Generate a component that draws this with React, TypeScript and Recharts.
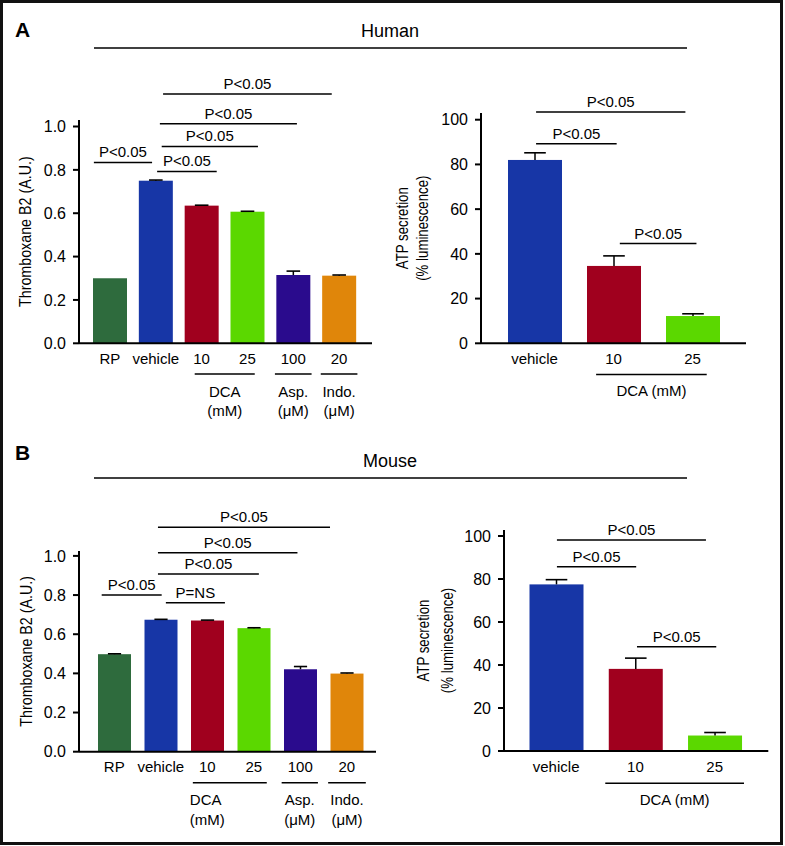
import { Bar, BarChart, ReferenceLine, XAxis, YAxis } from "recharts";

const TXB_CATEGORIES = ["RP", "vehicle", "10", "25", "100", "20"];
const TXB_COLORS = ["#2e6b3d", "#1736a6", "#a0001e", "#5bd800", "#2a0b8d", "#e0860a"];
const TXB_TICKS = [0, 0.2, 0.4, 0.6, 0.8, 1.0];

const HUMAN_TXB = [0.3, 0.75, 0.635, 0.607, 0.315, 0.312];
const HUMAN_TXB_ERR = [0, 0.003, 0.002, 0.002, 0.018, 0.003];
const MOUSE_TXB = [0.498, 0.674, 0.67, 0.631, 0.421, 0.399];
const MOUSE_TXB_ERR = [0.002, 0.002, 0.002, 0.002, 0.014, 0.003];

const ATP_CATEGORIES = ["vehicle", "10", "25"];
const ATP_COLORS = ["#1736a6", "#a0001e", "#5bd800"];
const ATP_TICKS = [0, 20, 40, 60, 80, 100];

const HUMAN_ATP = [82, 34.6, 12.2];
const HUMAN_ATP_ERR = [3.2, 4.5, 1.0];
const MOUSE_ATP = [77.5, 38.2, 7.2];
const MOUSE_ATP_ERR = [2.2, 5.0, 1.4];

// significance bars: from/to in category units (0 = left edge of first band)
const HUMAN_TXB_SIG = [
  { from: 0.15, to: 1.42, y: 0.834, text: "P<0.05" },
  { from: 1.53, to: 2.83, y: 0.793, text: "P<0.05" },
  { from: 1.63, to: 3.73, y: 0.908, text: "P<0.05" },
  { from: 1.59, to: 4.58, y: 1.013, text: "P<0.05" },
  { from: 1.66, to: 5.34, y: 1.15, text: "P<0.05" },
];
const MOUSE_TXB_SIG = [
  { from: 0.23, to: 1.52, y: 0.8, text: "P<0.05" },
  { from: 1.61, to: 2.88, y: 0.761, text: "P=NS" },
  { from: 1.44, to: 3.61, y: 0.908, text: "P<0.05" },
  { from: 1.44, to: 4.44, y: 1.016, text: "P<0.05" },
  { from: 1.44, to: 5.14, y: 1.146, text: "P<0.05" },
];
const HUMAN_ATP_SIG = [
  { from: 0.52, to: 2.41, y: 103.4, text: "P<0.05" },
  { from: 0.52, to: 1.54, y: 89.3, text: "P<0.05" },
  { from: 1.58, to: 2.55, y: 44.6, text: "P<0.05" },
];
const MOUSE_ATP_SIG = [
  { from: 0.51, to: 2.39, y: 98.1, text: "P<0.05" },
  { from: 0.51, to: 1.51, y: 85.7, text: "P<0.05" },
  { from: 1.52, to: 2.52, y: 48.5, text: "P<0.05" },
];

// treatment groups under the x axis
const HUMAN_TXB_GROUPS = [
  { from: 2.35, to: 3.66, y: -0.142, lines: ["DCA", "(mM)"], align: "middle" },
  { from: 4.1, to: 4.9, y: -0.142, lines: ["Asp.", "(μM)"], align: "middle" },
  { from: 5.1, to: 5.9, y: -0.142, lines: ["Indo.", "(μM)"], align: "middle" },
];
const MOUSE_TXB_GROUPS = [
  { from: 2.19, to: 3.78, y: -0.158, lines: ["DCA", "(mM)"], align: "start" },
  { from: 4.1, to: 4.88, y: -0.158, lines: ["Asp.", "(μM)"], align: "middle" },
  { from: 5.1, to: 5.91, y: -0.158, lines: ["Indo.", "(μM)"], align: "middle" },
];
const HUMAN_ATP_GROUPS = [{ from: 1.28, to: 2.68, y: -13.9, lines: ["DCA (mM)"], align: "middle" }];
const MOUSE_ATP_GROUPS = [{ from: 1.12, to: 2.87, y: -15.0, lines: ["DCA (mM)"], align: "middle" }];

const FONT = "'Liberation Sans', Arial, Helvetica, sans-serif";

function ErrBar(props: any) {
  const { x, y, width, height, payload } = props;
  const { value, err, color } = payload;
  const errPx = value > 0 ? (height * err) / value : 0;
  const cx = x + width / 2;
  const cap = width * 0.4;
  const top = y - errPx;
  return (
    <g>
      <rect x={x} y={y} width={width} height={height} fill={color} />
      {err > 0 && (
        <>
          <line x1={cx} x2={cx} y1={y} y2={top} stroke="#000" strokeWidth={1.5} />
          <line x1={cx - cap / 2} x2={cx + cap / 2} y1={top} y2={top} stroke="#000" strokeWidth={1.6} />
        </>
      )}
    </g>
  );
}

// condensed, rotated axis title (the original uses a narrow face)
function AxisTitle({ viewBox, lines, offsets, squeeze }: any) {
  if (!viewBox) return null;
  const axisX = viewBox.x + viewBox.width;
  const cy = viewBox.y + viewBox.height / 2;
  return (
    <g>
      {lines.map((t: string, i: number) => {
        const cx = axisX - offsets[i];
        return (
          <text
            key={i}
            x={0}
            y={0}
            transform={`translate(${cx} ${cy}) rotate(-90) scale(${squeeze} 1)`}
            textAnchor="middle"
            dominantBaseline="central"
            fontSize={17}
            fill="#000"
          >
            {t}
          </text>
        );
      })}
    </g>
  );
}

function GroupText({ viewBox, lines, align, gap }: any) {
  if (!viewBox) return null;
  const start = align === "start";
  const x = start ? viewBox.x - 3 : viewBox.x + viewBox.width / 2;
  return (
    <g>
      {lines.map((t: string, i: number) => (
        <text
          key={i}
          x={x}
          y={viewBox.y + gap + i * 19.5}
          textAnchor={start ? "start" : "middle"}
          dominantBaseline="central"
          fontSize={15}
          fill="#000"
        >
          {t}
        </text>
      ))}
    </g>
  );
}

function Panel(p: any) {
  const data = p.categories.map((name: string, i: number) => ({
    name,
    value: p.values[i],
    err: p.errs[i],
    color: p.colors[i],
    pos: i + 0.5,
  }));
  const n = p.categories.length;
  return (
    <div style={{ position: "absolute", left: p.left, top: p.top }}>
      <BarChart width={p.width} height={p.height} data={data} margin={p.margin} barSize={p.barSize}>
        <XAxis
          xAxisId="c"
          dataKey="name"
          padding={p.padding}
          interval={0}
          tickLine={false}
          tickMargin={4}
          height={30}
          axisLine={{ stroke: "#000", strokeWidth: 2 }}
          tick={{ fill: "#000", fontSize: 15 }}
        />
        <XAxis
          xAxisId="n"
          type="number"
          dataKey="pos"
          domain={[0, n]}
          allowDataOverflow
          padding={p.padding}
          hide
        />
        <YAxis
          domain={[0, p.yMax]}
          ticks={p.ticks}
          width={50}
          tickSize={6}
          tickMargin={7}
          tickFormatter={p.tickFormat}
          axisLine={{ stroke: "#000", strokeWidth: 2 }}
          tickLine={{ stroke: "#000", strokeWidth: 2 }}
          tick={{ fill: "#000", fontSize: 16 }}
          label={{
            content: (lp: any) => (
              <AxisTitle viewBox={lp.viewBox} lines={p.title} offsets={p.titleOffsets} squeeze={p.titleSqueeze} />
            ),
          }}
        />
        <Bar xAxisId="c" dataKey="value" isAnimationActive={false} shape={(sp: any) => <ErrBar {...sp} />} />
        {p.sig.map((s: any, i: number) => (
          <ReferenceLine
            key={"s" + i}
            xAxisId="n"
            segment={[
              { x: s.from, y: s.y },
              { x: s.to, y: s.y },
            ]}
            stroke="#000"
            strokeWidth={1.5}
            ifOverflow="visible"
            label={{ value: s.text, position: "top", offset: 5, fontSize: 15, fill: "#000" }}
          />
        ))}
        {p.groups.map((g: any, i: number) => (
          <ReferenceLine
            key={"g" + i}
            xAxisId="n"
            segment={[
              { x: g.from, y: g.y },
              { x: g.to, y: g.y },
            ]}
            stroke="#000"
            strokeWidth={1.5}
            ifOverflow="visible"
            label={{
              content: (lp: any) => (
                <GroupText viewBox={lp.viewBox} lines={g.lines} align={g.align} gap={p.groupGap} />
              ),
            }}
          />
        ))}
      </BarChart>
    </div>
  );
}

const oneDecimal = (v: number) => v.toFixed(1);
const plain = (v: number) => String(v);

export default function App() {
  return (
    <div
      style={{
        position: "absolute",
        left: 0,
        top: 0,
        width: 785,
        height: 846,
        background: "#fff",
        fontFamily: FONT,
      }}
    >
      <svg width={785} height={846} style={{ position: "absolute", left: 0, top: 0 }}>
        <rect x={1.5} y={1.5} width={780} height={842} fill="none" stroke="#111" strokeWidth={3} />
        <text x={15} y={37} fontSize={21} fontWeight="bold" fill="#000">
          A
        </text>
        <text x={390} y={37} fontSize={18} textAnchor="middle" fill="#000">
          Human
        </text>
        <line x1={94} x2={687} y1={48} y2={48} stroke="#000" strokeWidth={1.6} />
        <text x={15} y={460} fontSize={21} fontWeight="bold" fill="#000">
          B
        </text>
        <text x={390} y={467} fontSize={18} textAnchor="middle" fill="#000">
          Mouse
        </text>
        <line x1={94} x2={687} y1={478} y2={478} stroke="#000" strokeWidth={1.6} />
      </svg>

      <Panel
        left={0}
        top={60}
        width={400}
        height={370}
        margin={{ top: 60, right: 28, bottom: 56.7, left: 29 }}
        padding={{ left: 8, right: 10 }}
        barSize={34}
        categories={TXB_CATEGORIES}
        values={HUMAN_TXB}
        errs={HUMAN_TXB_ERR}
        colors={TXB_COLORS}
        ticks={TXB_TICKS}
        yMax={1.03}
        tickFormat={oneDecimal}
        title={["Thromboxane B2 (A.U.)"]}
        titleOffsets={[54]}
        titleSqueeze={0.84}
        sig={HUMAN_TXB_SIG}
        groups={HUMAN_TXB_GROUPS}
        groupGap={17}
      />
      <Panel
        left={390}
        top={60}
        width={395}
        height={370}
        margin={{ top: 53, right: 39, bottom: 56.7, left: 41 }}
        padding={{ left: 14, right: 14 }}
        barSize={54}
        categories={ATP_CATEGORIES}
        values={HUMAN_ATP}
        errs={HUMAN_ATP_ERR}
        colors={ATP_COLORS}
        ticks={ATP_TICKS}
        yMax={103}
        tickFormat={plain}
        title={["ATP secretion", "(% luminescence)"]}
        titleOffsets={[79, 59]}
        titleSqueeze={0.78}
        sig={HUMAN_ATP_SIG}
        groups={HUMAN_ATP_GROUPS}
        groupGap={16}
      />
      <Panel
        left={0}
        top={480}
        width={400}
        height={360}
        margin={{ top: 71, right: 24, bottom: 58.3, left: 29 }}
        padding={{ left: 12, right: 6 }}
        barSize={33}
        categories={TXB_CATEGORIES}
        values={MOUSE_TXB}
        errs={MOUSE_TXB_ERR}
        colors={TXB_COLORS}
        ticks={TXB_TICKS}
        yMax={1.025}
        tickFormat={oneDecimal}
        title={["Thromboxane B2 (A.U.)"]}
        titleOffsets={[53]}
        titleSqueeze={0.84}
        sig={MOUSE_TXB_SIG}
        groups={MOUSE_TXB_GROUPS}
        groupGap={17}
      />
      <Panel
        left={390}
        top={480}
        width={395}
        height={360}
        margin={{ top: 50, right: 16.7, bottom: 59, left: 64 }}
        padding={{ left: 12.5, right: 14 }}
        barSize={54}
        categories={ATP_CATEGORIES}
        values={MOUSE_ATP}
        errs={MOUSE_ATP_ERR}
        colors={ATP_COLORS}
        ticks={ATP_TICKS}
        yMax={102.8}
        tickFormat={plain}
        title={["ATP secretion", "(% luminescence)"]}
        titleOffsets={[81, 57]}
        titleSqueeze={0.78}
        sig={MOUSE_ATP_SIG}
        groups={MOUSE_ATP_GROUPS}
        groupGap={16}
      />
    </div>
  );
}
